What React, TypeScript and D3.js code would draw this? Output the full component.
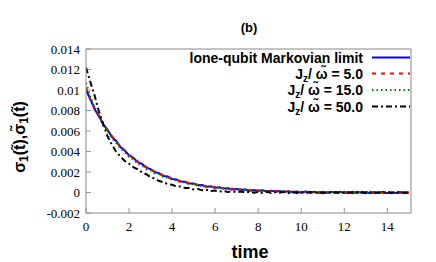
import React from "react";
import * as d3 from "d3";

const T_STEP = 0.2;
const markov = [0.01000, 0.00912, 0.00812, 0.00748, 0.00665, 0.00614, 0.00543, 0.00503, 0.00444, 0.00412,
  0.00362, 0.00339, 0.00296, 0.00279, 0.00243, 0.00229, 0.00198, 0.00189, 0.00161, 0.00156,
  0.00131, 0.00128, 0.00107, 0.00106, 0.00087, 0.00088, 0.00070, 0.00072, 0.00057, 0.00060,
  0.00046, 0.00050, 0.00038, 0.00042, 0.00029, 0.00035, 0.00026, 0.00030, 0.00018, 0.00025,
  0.00014, 0.00022, 0.00011, 0.00018, 0.00007, 0.00015, 0.00004, 0.00012, 0.00003, 0.00010,
  -0.00002, 0.00009, 0.00000, 0.00008, -0.00004, 0.00007, -0.00003, 0.00006, -0.00005, 0.00007,
  -0.00004, 0.00005, -0.00006, 0.00006, -0.00003, 0.00004, -0.00007, 0.00005, -0.00004, 0.00006,
  -0.00006, 0.00003, -0.00005, 0.00004, -0.00006, 0.00002];
const jz5 = [0.01020, 0.00905, 0.00828, 0.00738, 0.00676, 0.00603, 0.00552, 0.00494, 0.00452, 0.00404,
  0.00371, 0.00330, 0.00304, 0.00270, 0.00250, 0.00220, 0.00205, 0.00180, 0.00168, 0.00147,
  0.00138, 0.00120, 0.00114, 0.00097, 0.00094, 0.00080, 0.00077, 0.00065, 0.00064, 0.00053,
  0.00053, 0.00043, 0.00044, 0.00035, 0.00036, 0.00027, 0.00030, 0.00022, 0.00025, 0.00016,
  0.00021, 0.00013, 0.00017, 0.00009, 0.00014, 0.00006, 0.00012, 0.00003, 0.00010, 0.00001,
  0.00008, -0.00002, 0.00008, -0.00003, 0.00006, -0.00004, 0.00007, -0.00005, 0.00005, -0.00003,
  0.00006, -0.00006, 0.00004, -0.00004, 0.00006, -0.00005, 0.00003, -0.00007, 0.00005, -0.00004,
  0.00004, -0.00006, 0.00005, -0.00005, 0.00003, -0.00004];
const jz15 = [0.01070, 0.00935, 0.00830, 0.00742, 0.00660, 0.00598, 0.00530, 0.00485, 0.00428, 0.00394,
  0.00346, 0.00322, 0.00280, 0.00265, 0.00228, 0.00216, 0.00185, 0.00178, 0.00150, 0.00146,
  0.00122, 0.00120, 0.00099, 0.00099, 0.00080, 0.00082, 0.00065, 0.00068, 0.00052, 0.00057,
  0.00042, 0.00047, 0.00033, 0.00039, 0.00026, 0.00032, 0.00021, 0.00027, 0.00016, 0.00022,
  0.00012, 0.00019, 0.00009, 0.00016, 0.00005, 0.00013, 0.00003, 0.00011, 0.00001, 0.00009,
  -0.00002, 0.00008, -0.00003, 0.00007, -0.00005, 0.00006, -0.00002, 0.00006, -0.00006, 0.00005,
  -0.00004, 0.00007, -0.00005, 0.00004, -0.00006, 0.00005, -0.00003, 0.00004, -0.00007, 0.00006,
  -0.00004, 0.00005, -0.00006, 0.00003, -0.00005, 0.00004];
const jz50 = [0.01220, 0.01080, 0.00945, 0.00790, 0.00665, 0.00548, 0.00468, 0.00398, 0.00352, 0.00308,
  0.00282, 0.00248, 0.00226, 0.00196, 0.00178, 0.00150, 0.00136, 0.00112, 0.00100, 0.00082,
  0.00075, 0.00060, 0.00058, 0.00044, 0.00045, 0.00030, 0.00034, 0.00021, 0.00026, 0.00014,
  0.00019, 0.00009, 0.00015, 0.00005, 0.00012, 0.00002, 0.00009, -0.00001, 0.00008, -0.00003,
  0.00006, -0.00004, 0.00007, -0.00005, 0.00005, -0.00003, 0.00006, -0.00006, 0.00004, -0.00005,
  0.00005, -0.00006, 0.00003, -0.00004, 0.00006, -0.00007, 0.00004, -0.00005, 0.00005, -0.00006,
  0.00003, -0.00005, 0.00006, -0.00004, 0.00004, -0.00006, 0.00005, -0.00007, 0.00003, -0.00005,
  0.00005, -0.00004, 0.00004, -0.00006, 0.00003, -0.00005];

const xTicks = [0, 2, 4, 6, 8, 10, 12, 14];
const yTicks = [-0.002, 0, 0.002, 0.004, 0.006, 0.008, 0.01, 0.012, 0.014];
const yTickLabels = ["-0.002", "0", "0.002", "0.004", "0.006", "0.008", "0.01", "0.012", "0.014"];

const series = [
  { label: "lone-qubit Markovian limit", values: markov, color: "#0000ff", dash: "none", jz: null },
  { label: "5.0", values: jz5, color: "#ff0000", dash: "4,5", jz: true },
  { label: "15.0", values: jz15, color: "#008000", dash: "1.5,3", jz: true },
  { label: "50.0", values: jz50, color: "#000000", dash: "6,3,2,3", jz: true },
];

export default function App() {
  const W = 436, H = 262;
  const L = 86, R = 411, T = 49, B = 213;
  const x = d3.scaleLinear().domain([0, 15.1]).range([L, R]);
  const y = d3.scaleLinear().domain([-0.002, 0.014]).range([B, T]);
  const line = d3.line<number>().x((_, i) => x(i * T_STEP)).y((d) => y(d));
  const sans = "'Liberation Sans', Arial, sans-serif";
  const serif = "'Liberation Serif', 'Times New Roman', serif";
  const legendY = [57.5, 73.5, 90, 106.5];
  return (
    <svg width={W} height={H} style={{ position: "absolute", left: 0, top: 0 }}>
      <rect width={W} height={H} fill="#fff" />
      <defs>
        <clipPath id="plotclip">
          <rect x={L} y={T} width={R - L} height={B - T} />
        </clipPath>
      </defs>
      <text x={249} y={32} fontFamily={sans} fontWeight="bold" fontSize={13} textAnchor="middle">(b)</text>
      {xTicks.map((t) => (
        <g key={"x" + t}>
          <line x1={x(t)} x2={x(t)} y1={B} y2={B - 5} stroke="#999" strokeWidth={1} />
          <text x={x(t)} y={231} fontFamily={serif} fontSize={13} textAnchor="middle">{t}</text>
        </g>
      ))}
      {yTicks.map((t, i) => (
        <g key={"y" + t}>
          <line x1={L} x2={L + 5} y1={y(t)} y2={y(t)} stroke="#999" strokeWidth={1} />
          <text x={80} y={y(t) + 4.5} fontFamily={serif} fontSize={13} textAnchor="end">{yTickLabels[i]}</text>
        </g>
      ))}
      <g clipPath="url(#plotclip)">
        {series.map((s) => (
          <path key={s.label} d={line(s.values) || ""} fill="none" stroke={s.color} strokeWidth={2} strokeDasharray={s.dash} />
        ))}
      </g>
      <rect x={L} y={T} width={R - L} height={B - T} fill="none" stroke="#888" strokeWidth={1} />
      {series.map((s, i) => (
        <g key={"lg" + i}>
          <text x={363} y={legendY[i] + 5} fontFamily={sans} fontWeight="bold" fontSize={14} textAnchor="end">
            {s.jz ? (
              <>
                <tspan>J</tspan>
                <tspan fontSize={10} dy={3}>z</tspan>
                <tspan dy={-3}>/ ω̃ = {s.label}</tspan>
              </>
            ) : s.label}
          </text>
          <line x1={372} x2={410} y1={legendY[i]} y2={legendY[i]} stroke={s.color} strokeWidth={2} strokeDasharray={s.dash} />
        </g>
      ))}
      <text transform="translate(25,137) rotate(-90)" fontFamily={sans} fontWeight="bold" fontSize={16} textAnchor="middle">
        <tspan>σ</tspan><tspan fontSize={12} dy={3}>1</tspan><tspan dy={-3}>(t̃),σ̃</tspan><tspan fontSize={12} dy={3}>1</tspan><tspan dy={-3}>(t̃)</tspan>
      </text>
      <text x={250} y={258} fontFamily={sans} fontWeight="bold" fontSize={18} textAnchor="middle">time</text>
    </svg>
  );
}
